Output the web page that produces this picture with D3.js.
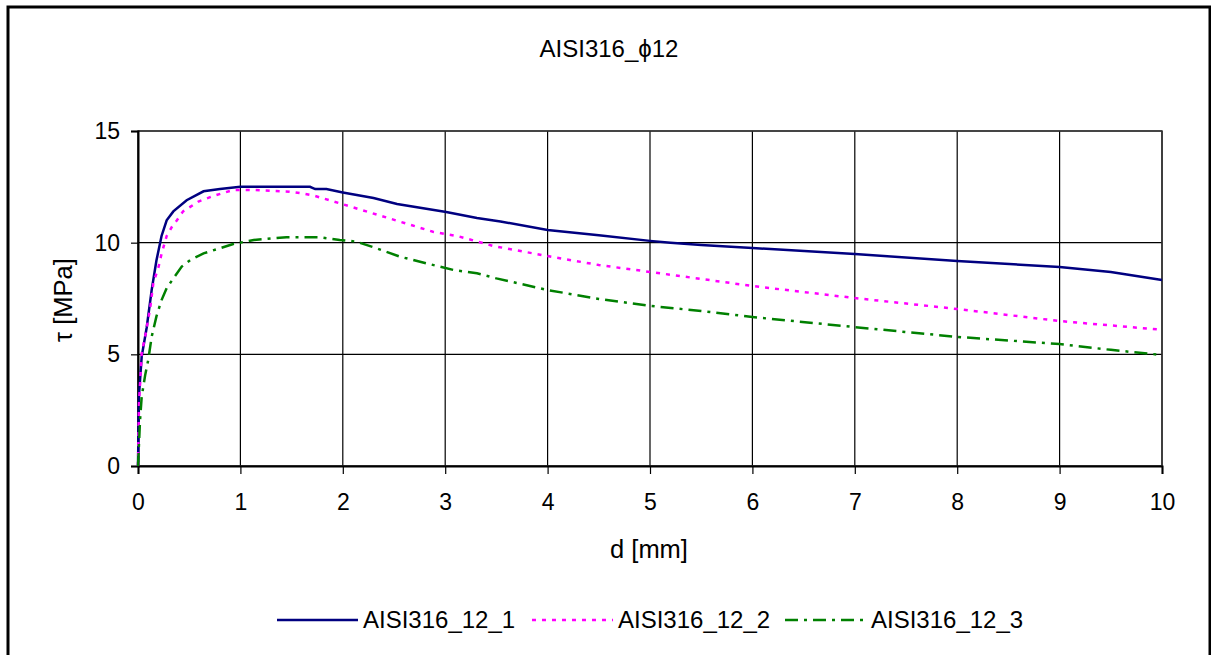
<!DOCTYPE html>
<head>
  <meta charset="utf-8">
  <script src="https://d3js.org/d3.v7.min.js"></script>
  <style>
    body { margin: 0; background: #fff; }
    text { font-family: Arial, "Liberation Sans", sans-serif; fill: #000; }
  </style>
</head>
<body>
<div id="chart"></div>
<script>

// data: d [mm] and tau [MPa]
var dA   = [0, 0.01, 0.036, 0.085, 0.134, 0.18, 0.23, 0.28, 0.345, 0.475, 0.64, 0.8, 1.0, 1.68, 1.73, 1.84, 2.0, 2.3, 2.53, 3.01, 3.31, 3.54, 4.0, 4.5, 5.0, 5.2, 5.5, 6.0, 7.0, 8.0, 9.0, 9.5, 10.0];
var tauA = [0, 3.2, 4.9, 6.2, 7.9, 9.2, 10.3, 11.0, 11.4, 11.9, 12.3, 12.4, 12.5, 12.5, 12.4, 12.4, 12.25, 12.0, 11.73, 11.37, 11.1, 10.95, 10.57, 10.33, 10.08, 10.0, 9.9, 9.76, 9.49, 9.18, 8.91, 8.69, 8.33];

var dB   = [0, 0.01, 0.036, 0.07, 0.12, 0.15, 0.2, 0.23, 0.28, 0.33, 0.38, 0.44, 0.51, 0.59, 0.735, 0.93, 1.13, 1.48, 1.61, 1.73, 1.97, 2.23, 2.56, 2.88, 3.14, 3.47, 4.0, 4.5, 5.0, 6.0, 7.0, 8.0, 9.0, 10.0];
var tauB = [0, 2.8, 5.05, 5.8, 7.1, 8.2, 8.9, 9.5, 10.3, 10.7, 11.0, 11.4, 11.6, 11.84, 12.09, 12.36, 12.36, 12.28, 12.2, 12.09, 11.76, 11.4, 10.94, 10.49, 10.27, 9.85, 9.4, 9.0, 8.69, 8.06, 7.52, 7.03, 6.49, 6.1];

var dC   = [0, 0.02, 0.036, 0.07, 0.1, 0.134, 0.18, 0.23, 0.28, 0.345, 0.427, 0.51, 0.64, 0.8, 0.93, 1.13, 1.45, 1.78, 1.97, 2.13, 2.31, 2.56, 2.82, 3.08, 3.31, 3.5, 4.0, 4.5, 5.0, 5.5, 6.0, 7.0, 8.0, 9.0, 9.5, 10.0];
var tauC = [0, 2.06, 3.1, 4.07, 4.75, 5.8, 6.7, 7.43, 7.96, 8.4, 8.93, 9.22, 9.52, 9.75, 9.94, 10.12, 10.24, 10.24, 10.12, 10.05, 9.78, 9.37, 9.07, 8.78, 8.63, 8.4, 7.88, 7.48, 7.17, 6.94, 6.67, 6.22, 5.78, 5.46, 5.2, 4.97];

var seriesNames = ["AISI316_12_1", "AISI316_12_2", "AISI316_12_3"];
var xTicks = [0, 1, 2, 3, 4, 5, 6, 7, 8, 9, 10];
var yTicks = [0, 5, 10, 15];

var W = 1211, H = 655;
var margin = {top: 131, right: 49, bottom: 189, left: 138},
    width = W - margin.left - margin.right,
    height = H - margin.top - margin.bottom;

var svg = d3.select("#chart").append("svg")
    .attr("width", W).attr("height", H);

// outer frame
svg.append("rect")
  .attr("x", 8).attr("y", 7).attr("width", 1202).attr("height", 670)
  .attr("fill", "none").attr("stroke", "#000").attr("stroke-width", 3);

var g = svg.append("g")
  .attr("transform", "translate(" + margin.left + "," + margin.top + ")");

var x = d3.scaleLinear().domain([0, 10]).range([0, width]);
var y = d3.scaleLinear().domain([0, 15]).range([height, 0]);

// gridlines
g.append("g").selectAll("line").data(xTicks).enter().append("line")
  .attr("x1", function (d) { return x(d); }).attr("x2", function (d) { return x(d); })
  .attr("y1", 0).attr("y2", height)
  .attr("stroke", "#000").attr("stroke-width", 1.2);
g.append("g").selectAll("line").data(yTicks).enter().append("line")
  .attr("x1", 0).attr("x2", width)
  .attr("y1", function (d) { return y(d); }).attr("y2", function (d) { return y(d); })
  .attr("stroke", "#000").attr("stroke-width", 1.2);

// plot border
g.append("rect")
  .attr("width", width).attr("height", height)
  .attr("fill", "none").attr("stroke", "#333").attr("stroke-width", 1.5);

// axes
var xAxis = g.append("g")
  .attr("transform", "translate(0," + height + ")")
  .call(d3.axisBottom(x).tickValues(xTicks).tickSize(8).tickPadding(20).tickFormat(d3.format("d")));
var yAxis = g.append("g")
  .call(d3.axisLeft(y).tickValues(yTicks).tickSize(7).tickPadding(11).tickFormat(d3.format("d")));
[xAxis, yAxis].forEach(function (a) {
  a.select(".domain").attr("stroke", "#000").attr("stroke-width", 2);
  a.selectAll(".tick line").attr("stroke", "#000").attr("stroke-width", 1.2);
  a.selectAll("text").style("font-size", "23px").attr("fill", "#000")
    .style("font-family", "Arial, 'Liberation Sans', sans-serif");
});

// series
var line = d3.line()
  .x(function (p) { return x(p[0]); })
  .y(function (p) { return y(p[1]); });

var series = [
  {pts: d3.zip(dA, tauA), color: "#000080", dash: null, w: 2.5},
  {pts: d3.zip(dB, tauB), color: "#ff00ff", dash: "4,6", w: 2.5},
  {pts: d3.zip(dC, tauC), color: "#008000", dash: "13,6,3,6", w: 2.5}
];

g.append("g").selectAll("path").data(series).enter().append("path")
  .attr("d", function (s) { return line(s.pts); })
  .attr("fill", "none")
  .attr("stroke", function (s) { return s.color; })
  .attr("stroke-width", function (s) { return s.w; })
  .attr("stroke-dasharray", function (s) { return s.dash; });

// title and axis labels
svg.append("text")
  .attr("x", 609).attr("y", 57).attr("text-anchor", "middle")
  .style("font-size", "24px").text("AISI316_\u03D512");

svg.append("text")
  .attr("x", 649).attr("y", 558).attr("text-anchor", "middle")
  .style("font-size", "25.5px").text("d [mm]");

svg.append("text")
  .attr("transform", "translate(72,300) rotate(-90)")
  .attr("text-anchor", "middle")
  .style("font-size", "25.5px").text("\u03C4 [MPa]");

// legend
var legX = [277, 532, 785];
var leg = svg.append("g").selectAll("g").data(series).enter().append("g")
  .attr("transform", function (s, i) { return "translate(" + legX[i] + ",620)"; });
leg.append("line")
  .attr("x1", 0).attr("x2", 81).attr("y1", 0).attr("y2", 0)
  .attr("stroke", function (s) { return s.color; })
  .attr("stroke-width", 2.5)
  .attr("stroke-dasharray", function (s) { return s.dash; });
leg.append("text")
  .attr("x", 86).attr("y", 8)
  .style("font-size", "24px")
  .text(function (s, i) { return seriesNames[i]; });

</script>
</body>
